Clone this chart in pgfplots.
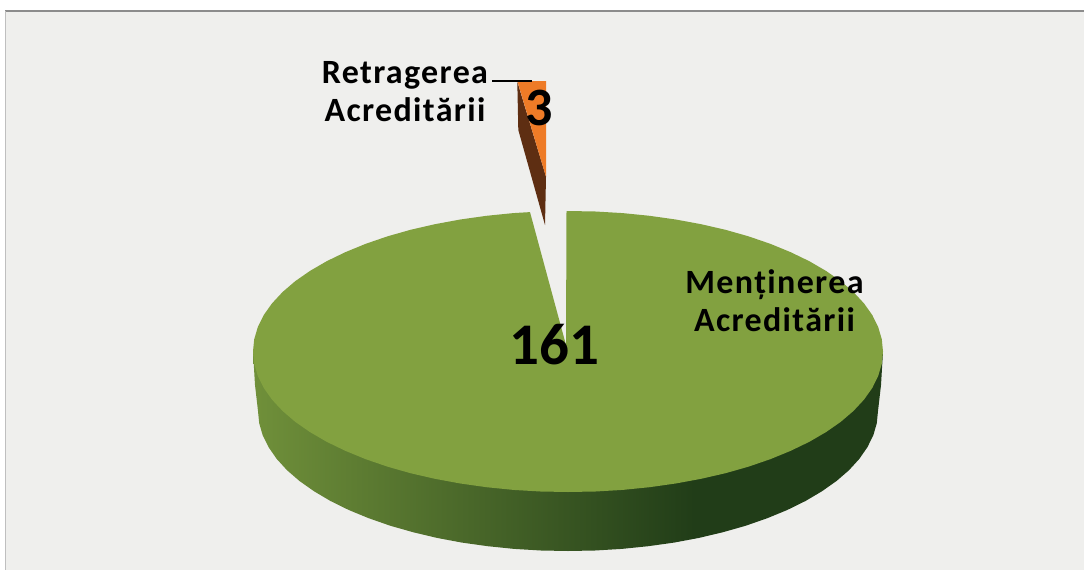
\documentclass[border=0pt]{standalone}
\usepackage{pgfplots}
\pgfplotsset{compat=1.18}
\usepackage{fontspec}
\setmainfont{Carlito}
\newfontfamily\lab[LetterSpace=4]{Carlito}
\definecolor{bgc}{HTML}{EFEFED}
\definecolor{topg}{HTML}{82A140}
\definecolor{orng}{HTML}{EE7B27}
\definecolor{brwn}{HTML}{5E2E12}
\definecolor{sidea}{HTML}{70903A}
\definecolor{sideb}{HTML}{213D18}
\pgfdeclarehorizontalshading{sideshade}{100bp}{color(0bp)=(sidea); color(25bp)=(sidea); color(60bp)=(sideb); color(100bp)=(sideb)}
\begin{document}
\begin{tikzpicture}
\begin{axis}[
  width=1084pt, height=570pt, scale only axis,
  xmin=0, xmax=1084, ymin=0, ymax=570, y dir=reverse,
  hide axis, clip=true,
]
% page and textured panel
\addplot[draw=none, fill=white] coordinates {(0,0) (1084,0) (1084,570) (0,570)} --cycle;
\addplot[draw=none, fill=bgc] coordinates {(5,11) (1084,11) (1084,570) (5,570)} --cycle;
\addplot[draw=black!45, line width=1.2pt] coordinates {(5,11) (1084,11)};
\addplot[draw=black!25, line width=0.8pt] coordinates {(5,11) (5,570)};
% side wall of the large slice
\addplot[draw=none, shade, shading=sideshade] coordinates {
(253,351.5) (255,385) (258,411) (259.2,423.2) (262.7,435.3) (268.6,447.2) (276.7,458.9) (287,470.2) (299.5,481) (314.1,491.3) (330.5,501) (348.8,510) (368.7,518.2) (390.2,525.7) (413,532.2) (437,537.9) (462,542.6) (487.8,546.2) (514.2,548.9) (541,550.5) (568,551)
(595,550.5) (621.8,548.9) (648.2,546.2) (674,542.6) (699,537.9) (723,532.2) (745.8,525.7) (767.3,518.2) (787.2,510) (805.5,501) (821.9,491.3) (836.5,481) (849,470.2) (859.3,458.9) (867.4,447.2) (873.3,435.3) (876.8,423.2) (878,411) (881,385) (883,351.5)
} --cycle;
% top face of the large slice (161)
\addplot[draw=none, fill=topg] coordinates {
(566.5,211) (568,211) (595.5,211.5) (622.7,213.1) (649.5,215.8) (675.7,219.5) (701.1,224.2) (725.5,229.8) (748.7,236.4) (770.5,243.9) (790.7,252.2) (809.3,261.2) (826,270.9) (840.8,281.2) (853.5,292.1) (864,303.4) (872.3,315.1) (878.2,327.1) (881.8,339.3) (883,351.5)
(881.8,363.7) (878.2,375.9) (872.3,387.9) (864,399.6) (853.5,410.9) (840.8,421.8) (826,432.1) (809.3,441.8) (790.7,450.8) (770.5,459.1) (748.7,466.6) (725.5,473.2) (701.1,478.8) (675.7,483.5) (649.5,487.2) (622.7,489.9) (595.5,491.5) (568,492)
(540.5,491.5) (513.3,489.9) (486.5,487.2) (460.3,483.5) (434.9,478.8) (410.5,473.2) (387.3,466.6) (365.5,459.1) (345.3,450.8) (326.7,441.8) (310,432.1) (295.2,421.8) (282.5,410.9) (272,399.6) (263.7,387.9) (257.8,375.9) (254.2,363.7) (253,351.5)
(254.2,339.3) (257.8,327.1) (263.7,315.1) (272,303.4) (282.5,292.1) (295.2,281.2) (310,270.9) (326.7,261.2) (345.3,252.2) (365.5,243.9) (387.3,236.4) (410.5,229.8) (434.9,224.2) (460.3,219.5) (486.5,215.8) (513.3,213.1) (530,212.1)
(566,345)
} --cycle;
% exploded small slice (3)
\addplot[draw=none, fill=brwn] coordinates {(517.3,81.7) (518.3,130) (545,225) (546,176.7)} --cycle;
\addplot[draw=none, fill=orng] coordinates {(517.3,81) (546,81) (546,176.7)} --cycle;
% leader line
\addplot[draw=black, line width=2pt] coordinates {(492,80.5) (532,80.5)};
% labels
\node[anchor=center, align=center, inner sep=0, font=\lab\bfseries\fontsize{34}{38}\selectfont] at (axis cs:405,92) {Retragerea\\Acreditării};
\node[anchor=center, align=center, inner sep=0, font=\lab\bfseries\fontsize{34}{38}\selectfont] at (axis cs:774.5,301) {Menținerea\\Acreditării};
\node[anchor=center, inner sep=0, font=\bfseries\fontsize{59}{62}\selectfont] at (axis cs:554.5,345) {161};
\node[anchor=center, inner sep=0, font=\bfseries\fontsize{54}{58}\selectfont] at (axis cs:539,108) {3};
\end{axis}
\end{tikzpicture}
\end{document}
